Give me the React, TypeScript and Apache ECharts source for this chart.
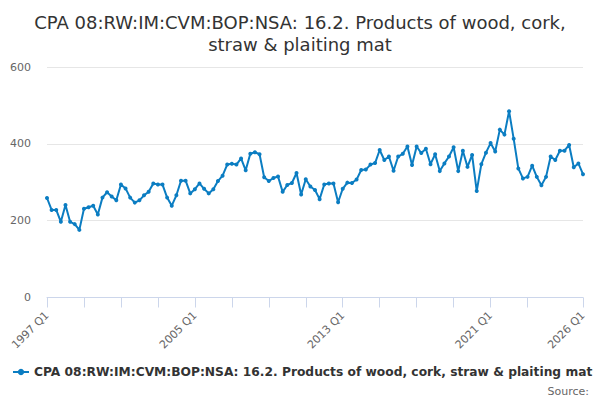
import React, { useEffect, useRef } from "react";
import * as echarts from "echarts";

const TITLE_LINE_1 = "CPA 08:RW:IM:CVM:BOP:NSA: 16.2. Products of wood, cork,";
const TITLE_LINE_2 = "straw & plaiting mat";
const SERIES_NAME = "CPA 08:RW:IM:CVM:BOP:NSA: 16.2. Products of wood, cork, straw & plaiting mat";

const FIRST_YEAR = 1997;
const LAST_YEAR = 2026;
const QUARTERS = ["Q1", "Q2", "Q3", "Q4"];

const categories: string[] = [];
for (let y = FIRST_YEAR; y <= LAST_YEAR; y++) {
  for (const q of QUARTERS) {
    if (y === LAST_YEAR && q !== "Q1") continue;
    categories.push(`${y} ${q}`);
  }
}

const values1997to2004 = [
  259, 228, 228, 197, 241, 197, 191, 176,
  231, 235, 239, 216, 260, 274, 263, 253,
  294, 284, 260, 247, 253, 266, 275, 297,
  294, 294, 260, 239, 266, 304, 304, 271,
];
const values2005to2012 = [
  282, 297, 283, 271, 282, 303, 317, 346,
  348, 346, 362, 331, 374, 378, 373, 313,
  303, 311, 315, 275, 293, 298, 324, 268,
  308, 289, 280, 256, 294, 297, 297, 248,
];
const values2013to2020 = [
  283, 299, 298, 307, 332, 333, 346, 350,
  384, 358, 367, 330, 367, 374, 393, 345,
  393, 376, 387, 347, 373, 329, 349, 367,
  391, 329, 382, 340, 371, 277, 347, 377,
];
const values2021to2026 = [
  402, 380, 437, 424, 485, 413, 336, 310,
  314, 343, 314, 292, 314, 367, 358, 382,
  382, 397, 339, 349, 321,
];
const values = [...values1997to2004, ...values2005to2012, ...values2013to2020, ...values2021to2026];

const Y_TICKS = [0, 200, 400, 600];

export default function App() {
  const ref = useRef<HTMLDivElement>(null);
  useEffect(() => {
    document.body.style.margin = "0";
    if (!ref.current) return;
    const chart = echarts.init(ref.current, null, { renderer: "svg" });
    const last = categories.length - 1;
    chart.setOption({
      animation: false,
      backgroundColor: "#ffffff",
      title: {
        text: TITLE_LINE_1 + "\n" + TITLE_LINE_2,
        left: "center",
        top: 6,
        textStyle: {
          fontFamily: "DejaVu Sans",
          fontSize: 18,
          fontWeight: "normal",
          color: "#333333",
          lineHeight: 22,
        },
      },
      legend: {
        left: 7,
        top: 361,
        itemWidth: 16,
        itemHeight: 8,
        itemGap: 8,
        textStyle: {
          fontFamily: "DejaVu Sans",
          fontSize: 12.25,
          fontWeight: "bold",
          color: "#333333",
        },
        data: [SERIES_NAME],
      },
      graphic: [
        {
          type: "text",
          right: 11,
          top: 386,
          style: {
            text: "Source:",
            fontFamily: "DejaVu Sans",
            fontSize: 11,
            fill: "#666666",
          },
        },
      ],
      grid: { left: 47, right: 17, top: 67, bottom: 102.5 },
      xAxis: {
        type: "category",
        data: categories,
        boundaryGap: false,
        axisLine: { lineStyle: { color: "#ccd6eb", width: 1 } },
        axisTick: {
          show: true,
          length: 10,
          lineStyle: { color: "#ccd6eb" },
          interval: (idx: number) => (idx % 8 === 0 && idx < last - 8) || idx === last,
        },
        axisLabel: {
          rotate: 45,
          margin: 16,
          fontFamily: "DejaVu Sans",
          fontSize: 11,
          color: "#666666",
          interval: (idx: number) => idx % 32 === 0 || idx === last,
        },
        splitLine: { show: false },
      },
      yAxis: {
        type: "value",
        min: Y_TICKS[0],
        max: Y_TICKS[Y_TICKS.length - 1],
        interval: 200,
        axisLine: { show: false },
        axisTick: { show: false },
        axisLabel: {
          margin: 16,
          fontFamily: "DejaVu Sans",
          fontSize: 11,
          color: "#666666",
        },
        splitLine: { lineStyle: { color: "#e6e6e6", width: 1 } },
      },
      series: [
        {
          name: SERIES_NAME,
          type: "line",
          data: values,
          color: "#0b7dc2",
          lineStyle: { width: 2, color: "#0b7dc2" },
          symbol: "circle",
          symbolSize: 4,
          showSymbol: true,
          showAllSymbol: true,
          itemStyle: { color: "#0b7dc2" },
        },
      ],
    });
    return () => chart.dispose();
  }, []);
  return (
    <div
      ref={ref}
      style={{ position: "fixed", left: 0, top: 0, width: 600, height: 400 }}
    />
  );
}
